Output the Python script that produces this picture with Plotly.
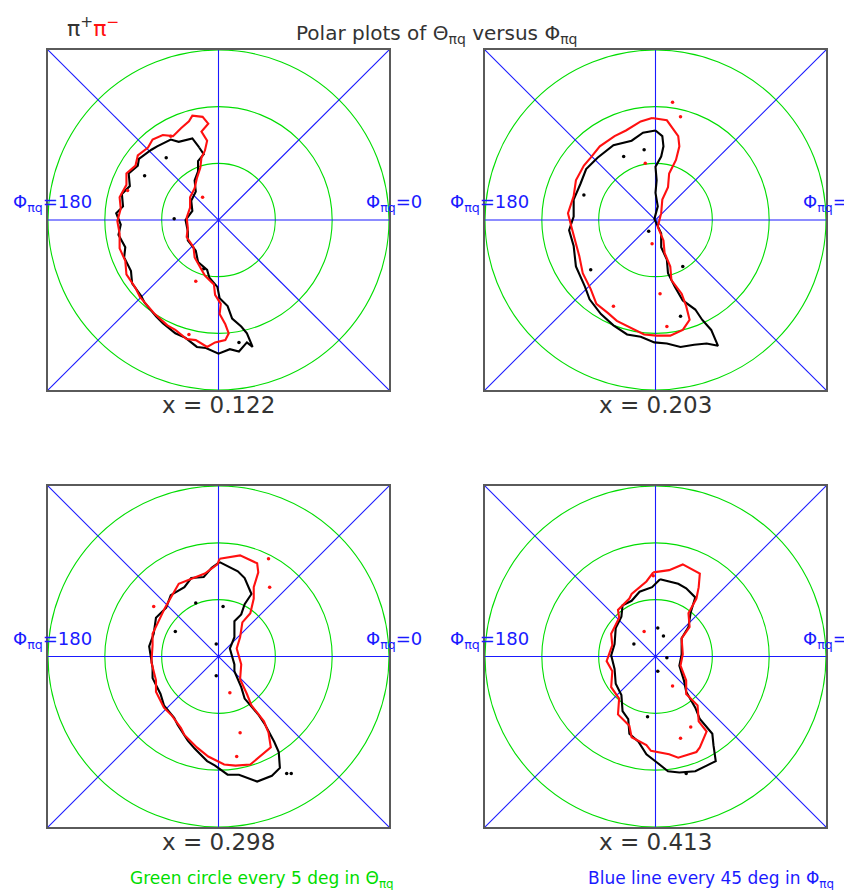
import math
import plotly.graph_objects as go

W, H = 844, 890

# ---------------- data ----------------
X_VALUES = ["0.122", "0.203", "0.298", "0.413"]
THETA_CIRCLES = [5, 10, 15]          # deg in Theta_pq
PHI_LINES = [0, 45, 90, 135]         # deg in Phi_pq
AXIS_MAX = 15

# Contour outlines, projected (Theta*cos(Phi), Theta*sin(Phi)) in degrees
P1_BLACK_X = [-1.7, -2.3, -3.5, -4.2, -5.4, -5.9, -7.0, -7.1, -7.9, -7.8, -8.5, -8.4, -9.0, -8.6, -8.8, -8.2, -8.3, -7.7,
              -7.6, -6.8, -6.5, -5.5, -4.9, -3.8, -2.9, -1.9, -1.1, 0.0, 1.0, 1.8, 2.5, 3.0, 2.5, 2.0, 1.2, 0.8, 0.1,
              -0.1, -0.8, -1.0, -1.8, -2.0, -2.7, -2.7, -2.9, -2.3, -2.4, -2.0, -2.1, -1.8, -1.8, -1.3, -1.7]
P1_BLACK_Y = [6.4, 7.2, 6.9, 7.1, 6.5, 6.2, 5.4, 4.8, 4.1, 3.0, 2.3, 1.2, 0.6, -0.4, -1.3, -2.4, -3.3, -4.5,
              -5.6, -6.7, -7.3, -8.5, -9.1, -10.0, -10.4, -11.2, -11.3, -11.8, -11.4, -11.6, -10.8, -11.2, -10.0, -9.4,
              -8.7, -7.6, -6.9, -5.9, -5.1, -4.4, -3.7, -2.7, -1.8, -1.0, 0.0, 0.8, 1.7, 2.5, 3.5, 4.3, 5.2, 5.8, 6.4]
P1_RED_X = [-1.2, -1.0, -1.5, -0.9, -1.4, -2.3, -2.6, -3.3, -4.0, -4.9, -5.8, -6.2, -7.1, -7.3, -8.1, -8.1, -8.7, -8.6,
            -8.9, -8.7, -8.7, -8.2, -8.1, -7.3, -6.9, -6.0, -5.6, -4.5, -3.8, -2.8, -2.0, -1.0, -0.3, 0.6, 0.9, 0.6,
            0.1, 0.2, -0.3, -0.4, -1.2, -1.6, -2.1, -2.2, -2.8, -2.7, -2.8, -2.5, -2.5, -2.1, -1.9, -1.6, -1.5, -1.2]
P1_RED_Y = [6.1, 7.0, 7.8, 8.5, 9.1, 9.2, 8.7, 8.1, 7.4, 7.5, 7.1, 6.4, 5.7, 4.8, 4.1, 3.1, 2.0, 1.0,
            -0.1, -1.2, -2.5, -3.6, -4.8, -6.0, -6.8, -7.8, -8.3, -9.3, -9.7, -10.5, -10.6, -11.2, -10.8, -10.6,
            -10.0, -9.2, -8.3, -7.4, -6.6, -5.7, -4.9, -4.2, -3.3, -2.4, -1.5, -0.7, 0.2, 1.1, 2.0, 2.8, 3.7, 4.6,
            5.5, 6.1]
P1_BLACK_DOTS_X = [-4.6, -6.5, -3.9, 1.8, -1.3]
P1_BLACK_DOTS_Y = [5.5, 3.9, 0.1, -10.8, -4.3]
P1_RED_DOTS_X = [-8.0, -1.4, -2.0, -2.6, -4.2]
P1_RED_DOTS_Y = [2.6, 2.0, -5.4, -10.1, 7.4]

P2_BLACK_X = [0.0, -1.1, -2.1, -3.7, -5.1, -6.1, -6.6, -7.2, -7.2, -7.6, -7.2, -7.0, -6.2, -5.8, -4.8, -3.7, -2.5, -1.3,
              -0.1, 1.0, 2.2, 3.4, 4.5, 5.5, 4.9, 4.1, 3.5, 2.4, 1.7, 1.1, 1.0, 0.5, 0.5, 0.1, -0.1, 0.2, 0.0, 0.1,
              0.0, 0.5, 0.7, 0.6, 0.0]
P2_BLACK_Y = [7.9, 7.7, 7.0, 6.6, 5.5, 4.5, 3.2, 1.8, 0.3, -0.9, -2.3, -4.1, -5.9, -7.0, -8.3, -9.3, -10.1, -10.3,
              -10.8, -10.9, -11.2, -11.0, -10.9, -11.1, -9.7, -8.8, -7.9, -7.1, -5.9, -4.7, -3.5, -2.4, -1.2, -0.3,
              0.1, 1.2, 2.4, 3.5, 4.7, 5.6, 6.5, 7.4, 7.9]
P2_RED_X = [-0.3, 1.0, 2.0, 2.1, 1.8, 1.2, 1.1, 0.6, 0.5, 0.2, 0.7, 0.8, 1.3, 1.4, 2.3, 2.7, 3.0, 2.4, 1.3, 0.1,
            -1.0, -2.2, -3.4, -4.2, -5.2, -5.7, -6.4, -6.7, -7.1, -7.4, -7.7, -7.2, -7.0, -6.3, -5.7, -4.9, -3.6,
            -2.6, -1.3, -0.3]
P2_RED_Y = [9.0, 8.8, 7.4, 6.5, 5.3, 4.1, 2.9, 1.8, 0.6, -0.6, -1.8, -2.9, -4.1, -5.3, -6.5, -7.6, -8.8, -9.7,
            -10.2, -10.2, -10.1, -9.5, -8.9, -8.2, -7.4, -6.1, -4.7, -3.2, -1.8, -0.6, 0.6, 2.1, 3.5, 4.8, 5.5, 6.5,
            7.4, 7.9, 8.7, 9.0]
P2_BLACK_DOTS_X = [-6.3, -2.8, -5.7, 2.2, -0.6, 2.4, -1.0]
P2_BLACK_DOTS_Y = [2.2, 5.6, -4.4, -8.5, -1.0, -4.1, 6.2]
P2_RED_DOTS_X = [1.5, 2.2, -3.7, 1.0, 0.4, -0.3, -0.9]
P2_RED_DOTS_Y = [10.4, 9.1, -7.6, -9.4, -6.5, -2.1, 5.0]

P3_BLACK_X = [0.1, 1.7, 2.3, 2.9, 2.3, 2.0, 1.4, 1.4, 1.0, 1.4, 1.4, 2.0, 2.3, 3.5, 4.1, 4.9, 5.3, 5.4, 4.7, 3.4,
              1.8, 0.8, -0.3, -1.0, -2.1, -2.7, -3.6, -3.9, -4.8, -5.1, -5.8, -5.8, -6.1, -5.7, -5.5, -4.6, -4.2,
              -3.0, -2.4, -1.3, -0.6, 0.1]
P3_BLACK_Y = [8.3, 7.5, 6.9, 5.5, 4.6, 3.7, 3.1, 1.7, 0.7, -0.7, -1.3, -2.7, -3.7, -5.1, -6.0, -7.5, -8.4, -9.8,
              -10.5, -11.0, -10.4, -10.4, -9.6, -9.2, -8.1, -7.4, -6.0, -5.4, -4.3, -3.3, -1.9, -1.0, 0.9, 2.0, 3.4,
              4.3, 5.4, 6.1, 6.9, 7.0, 7.8, 8.3]
P3_RED_X = [0.1, 1.9, 3.4, 3.5, 3.1, 3.1, 2.8, 2.1, 1.9, 1.6, 2.0, 1.9, 2.5, 2.9, 4.0, 4.4, 4.6, 3.8, 2.8, 1.5,
            0.5, -0.9, -1.9, -3.0, -3.3, -4.1, -4.8, -5.5, -5.5, -5.9, -5.8, -5.8, -5.1, -4.7, -3.9, -3.5, -2.2,
            -1.2, -0.1, 0.1]
P3_RED_Y = [8.6, 8.9, 8.2, 7.4, 6.1, 5.1, 3.8, 3.0, 1.7, 0.7, -0.7, -2.0, -3.3, -4.3, -5.7, -6.7, -8.0, -8.7,
            -9.5, -9.6, -9.5, -8.8, -8.0, -6.9, -6.3, -5.2, -4.5, -3.1, -2.1, -0.5, 1.0, 2.0, 3.4, 4.3, 5.7, 6.4,
            6.9, 7.3, 8.1, 8.6]
P3_BLACK_DOTS_X = [-3.8, -0.2, -0.2, 6.0, 6.4, -2.0, 0.4]
P3_BLACK_DOTS_Y = [2.2, 1.1, -1.7, -10.3, -10.3, 4.7, 4.4]
P3_RED_DOTS_X = [-5.7, 4.4, 4.5, 1.9, 1.6, 1.0]
P3_RED_DOTS_Y = [4.4, 8.6, 6.1, -6.7, -8.8, -3.2]

P4_BLACK_X = [0.4, 2.0, 2.7, 3.5, 3.1, 2.9, 2.3, 2.3, 2.1, 2.5, 2.7, 3.5, 3.9, 5.0, 5.1, 5.3, 4.5, 3.5, 2.1, 1.1,
              0.1, -0.8, -1.5, -2.3, -2.4, -2.9, -3.0, -3.5, -3.6, -3.9, -3.6, -3.5, -3.0, -2.9, -2.1, -1.4, -0.3,
              0.4]
P4_BLACK_Y = [6.8, 6.4, 6.0, 5.2, 3.9, 2.6, 1.6, 0.2, -0.8, -2.1, -3.1, -4.5, -5.5, -6.8, -7.8, -9.2, -9.6, -10.1,
              -10.2, -10.1, -9.3, -8.6, -7.5, -6.8, -5.5, -4.8, -3.4, -2.4, -1.1, 0.1, 1.1, 2.5, 3.5, 4.5, 4.9, 5.7,
              6.1, 6.8]
P4_RED_X = [-0.2, 1.2, 2.4, 3.9, 3.8, 3.6, 2.9, 3.0, 2.3, 2.4, 2.2, 2.7, 2.7, 3.7, 3.8, 4.5, 3.9, 3.6, 2.0, 1.2,
            -0.4, -0.8, -2.1, -2.3, -3.3, -3.2, -3.9, -3.8, -4.3, -3.8, -3.9, -3.2, -3.3, -2.3, -2.1, -0.8, -0.2]
P4_RED_Y = [7.4, 7.6, 8.1, 7.3, 6.1, 5.1, 3.8, 2.6, 1.6, 0.2, -0.8, -2.1, -3.3, -4.3, -5.7, -6.6, -8.0, -8.4,
            -8.9, -8.6, -8.3, -7.8, -7.1, -6.1, -5.1, -3.7, -2.7, -1.3, -0.4, 1.0, 2.0, 3.4, 4.1, 5.1, 5.5, 6.6, 7.4]
P4_BLACK_DOTS_X = [0.2, -1.9, 0.2, 1.0, 2.7, -0.7, 0.7]
P4_BLACK_DOTS_Y = [2.5, 1.1, -1.3, -0.1, -10.3, -5.3, 1.8]
P4_RED_DOTS_X = [-1.0, 1.5, 2.2, 3.1, -0.2]
P4_RED_DOTS_Y = [2.2, -2.6, -7.2, -6.2, 7.1]

PANELS = [
    (P1_BLACK_X, P1_BLACK_Y, P1_RED_X, P1_RED_Y, P1_BLACK_DOTS_X, P1_BLACK_DOTS_Y, P1_RED_DOTS_X, P1_RED_DOTS_Y),
    (P2_BLACK_X, P2_BLACK_Y, P2_RED_X, P2_RED_Y, P2_BLACK_DOTS_X, P2_BLACK_DOTS_Y, P2_RED_DOTS_X, P2_RED_DOTS_Y),
    (P3_BLACK_X, P3_BLACK_Y, P3_RED_X, P3_RED_Y, P3_BLACK_DOTS_X, P3_BLACK_DOTS_Y, P3_RED_DOTS_X, P3_RED_DOTS_Y),
    (P4_BLACK_X, P4_BLACK_Y, P4_RED_X, P4_RED_Y, P4_BLACK_DOTS_X, P4_BLACK_DOTS_Y, P4_RED_DOTS_X, P4_RED_DOTS_Y),
]

# ---------------- layout (pixel boxes) ----------------
BOXES = [(48, 50, 389, 390), (485, 50, 826, 390), (48, 486, 389, 827), (485, 486, 826, 827)]
GREEN = "#00dd00"
BLUE = "#1a1aff"
RED = "#ff1010"
FONT = "DejaVu Sans"


def px(x):
    return x / W


def py(y):
    return 1 - y / H


fig = go.Figure()
layout = dict(width=W, height=H, margin=dict(l=0, r=0, t=0, b=0), showlegend=False,
              paper_bgcolor="white", plot_bgcolor="white", shapes=[], annotations=[])

for i, (box, data) in enumerate(zip(BOXES, PANELS)):
    n = "" if i == 0 else str(i + 1)
    xa, ya = "x" + n, "y" + n
    l, t, r, b = box
    axcommon = dict(range=[-AXIS_MAX, AXIS_MAX], showgrid=False, zeroline=False, showticklabels=False,
                    ticks="", showline=True, mirror=True, linecolor="#5a5a5a", linewidth=1.5, fixedrange=True)
    layout["xaxis" + n] = dict(domain=[px(l), px(r)], anchor=ya, **axcommon)
    layout["yaxis" + n] = dict(domain=[py(b), py(t)], anchor=xa, **axcommon)

    # green circles
    for rad in THETA_CIRCLES:
        layout["shapes"].append(dict(type="circle", xref=xa, yref=ya, x0=-rad, y0=-rad, x1=rad, y1=rad,
                                     line=dict(color=GREEN, width=1.1), layer="below"))
    # blue lines
    for ang in PHI_LINES:
        c, s = math.cos(math.radians(ang)), math.sin(math.radians(ang))
        k = AXIS_MAX / max(abs(c), abs(s))
        layout["shapes"].append(dict(type="line", xref=xa, yref=ya, x0=-k * c, y0=-k * s, x1=k * c, y1=k * s,
                                     line=dict(color=BLUE, width=1.1), layer="below"))

    bx, by, rx, ry, bdx, bdy, rdx, rdy = data
    fig.add_trace(go.Scatter(x=bx, y=by, mode="lines", line=dict(color="black", width=2.1),
                             xaxis=xa, yaxis=ya, hoverinfo="skip"))
    fig.add_trace(go.Scatter(x=bdx, y=bdy, mode="markers", marker=dict(color="black", size=3.5),
                             xaxis=xa, yaxis=ya, hoverinfo="skip"))
    fig.add_trace(go.Scatter(x=rx, y=ry, mode="lines", line=dict(color=RED, width=2.1),
                             xaxis=xa, yaxis=ya, hoverinfo="skip"))
    fig.add_trace(go.Scatter(x=rdx, y=rdy, mode="markers", marker=dict(color=RED, size=3.5),
                             xaxis=xa, yaxis=ya, hoverinfo="skip"))

    cy = (t + b) / 2
    # Phi labels
    layout["annotations"].append(dict(text="Φ<sub>πq</sub>=180", xref="paper", yref="paper",
                                      x=px(l - 37), y=py(cy - 17), xanchor="left", yanchor="middle",
                                      showarrow=False, font=dict(family=FONT, size=18, color=BLUE)))
    layout["annotations"].append(dict(text="Φ<sub>πq</sub>=0", xref="paper", yref="paper",
                                      x=px(r - 25), y=py(cy - 17), xanchor="left", yanchor="middle",
                                      showarrow=False, font=dict(family=FONT, size=18, color=BLUE)))
    # x label
    layout["annotations"].append(dict(text="x = " + X_VALUES[i], xref="paper", yref="paper",
                                      x=px((l + r) / 2), y=py(b + 15), xanchor="center", yanchor="middle",
                                      showarrow=False, font=dict(family=FONT, size=23, color="#333333")))

layout["annotations"] += [
    dict(text="π<sup>+</sup><span style='color:#ff1010'>π<sup>−</sup></span>", xref="paper", yref="paper",
         x=px(65), y=py(27), xanchor="left", yanchor="middle", showarrow=False,
         font=dict(family=FONT, size=22, color="#333333")),
    dict(text="Polar plots of Θ<sub>πq</sub> versus Φ<sub>πq</sub>", xref="paper", yref="paper",
         x=px(436), y=py(34), xanchor="center", yanchor="middle", showarrow=False,
         font=dict(family=FONT, size=20, color="#333333")),
    dict(text="Green circle every 5 deg in Θ<sub>πq</sub>", xref="paper", yref="paper",
         x=px(262), y=py(879), xanchor="center", yanchor="middle", showarrow=False,
         font=dict(family=FONT, size=17, color=GREEN)),
    dict(text="Blue line every 45 deg in Φ<sub>πq</sub>", xref="paper", yref="paper",
         x=px(711), y=py(879), xanchor="center", yanchor="middle", showarrow=False,
         font=dict(family=FONT, size=17, color=BLUE)),
]

fig.update_layout(**layout)
fig.write_html("out.html")
